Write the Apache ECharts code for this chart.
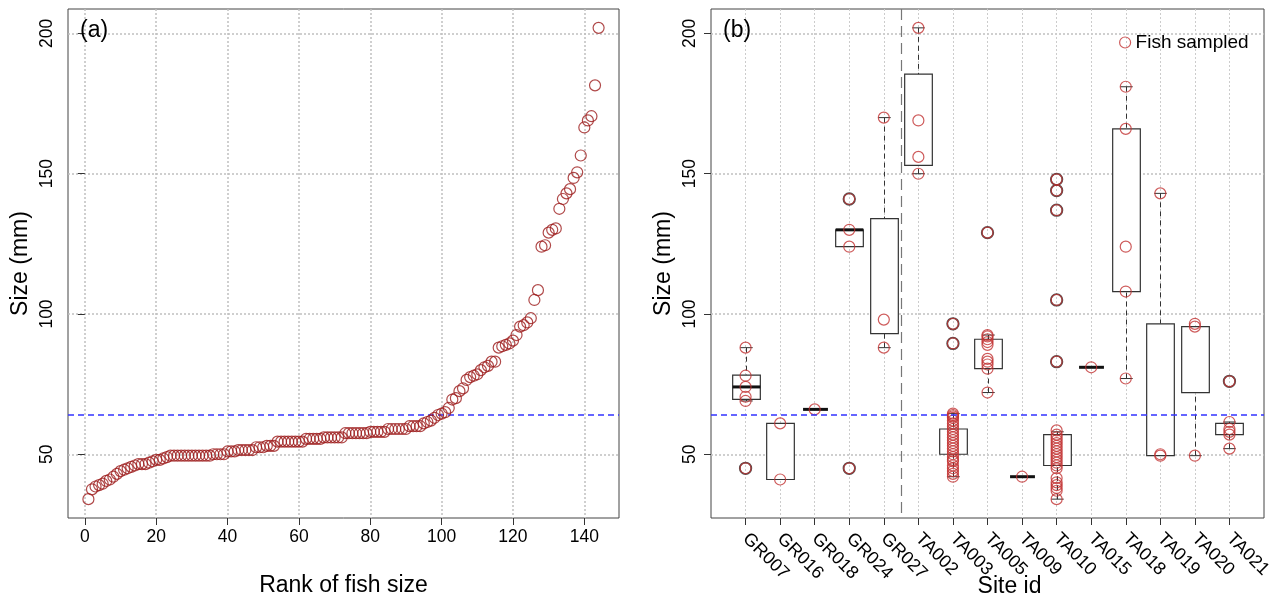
<!DOCTYPE html>
<html>
<head>
<meta charset="utf-8">
<script src="https://cdn.jsdelivr.net/npm/echarts@6/dist/echarts.min.js"></script>
<style>
  html, body { margin: 0; padding: 0; background: #fff; }
  #chart { width: 1270px; height: 599px; }
</style>
</head>
<body>
<div id="chart"></div>
<script>
// Fish sizes (mm), ordered from smallest to largest (panel a)
const rankedSizes = [
  34, 37.5, 38.5, 39, 39.5, 40.5, 41, 42, 43, 44,
  44.5, 45, 45.5, 46, 46.5, 46.5, 46.5, 47, 47.5, 48,
  48, 48.5, 49, 49.5, 49.5, 49.5, 49.5, 49.5, 49.5, 49.5,
  49.5, 49.5, 49.5, 49.5, 49.5, 50, 50, 50, 50, 51,
  51, 51, 51.5, 51.5, 51.5, 51.5, 51.5, 52.5, 52.5, 52.5,
  53, 53, 53, 54.5, 54.5, 54.5, 54.5, 54.5, 54.5, 54.5,
  54.5, 55.5, 55.5, 55.5, 55.5, 55.5, 56, 56, 56, 56,
  56, 56, 57.5, 57.5, 57.5, 57.5, 57.5, 57.5, 57.5, 58,
  58, 58, 58, 58, 59, 59, 59, 59, 59, 59,
  60, 60, 60, 60, 61, 61.5, 62, 63, 64, 64.5,
  65, 66.5, 69.5, 70, 72.5, 73.5, 76.5, 77.5, 78, 78.5,
  80, 81, 81.5, 83, 83, 88, 88.5, 89, 89.5, 90.5,
  92.5, 95.5, 96, 97, 98.5, 105, 108.5, 124, 124.5, 129,
  130, 130.5, 137.5, 141, 143, 144.5, 148.5, 150.5, 156.5, 166.5,
  169, 170.5, 181.5, 202
];

// Reference size shown as the blue dashed line
const referenceSize = 64;

// Sites (panel b)
const siteIds = ['GR007', 'GR016', 'GR018', 'GR024', 'GR027', 'TA002', 'TA003', 'TA005',
                 'TA009', 'TA010', 'TA015', 'TA018', 'TA019', 'TA020', 'TA021'];

// Position of the dashed separator between GR and TA sites
const groupSeparator = 5.5;

// Fish sampled at each site (same order as siteIds)
const siteSizes = [
  [88, 78, 74, 70.5, 69, 45],
  [61, 41],
  [66],
  [141, 130, 124, 45],
  [170, 98, 88],
  [202, 169, 156, 150],
  [96.5, 89.5, 64.5, 64, 63.5, 63, 62, 61, 60, 59, 58, 57, 56, 55, 54, 53, 52, 51,
   50, 49, 48, 47.5, 46, 45, 44, 43, 42],
  [129, 92.5, 92, 91, 90, 89, 84, 83, 82, 80.5, 72],
  [42],
  [148, 144, 137, 105, 83, 58.5, 57, 56, 55, 54, 53, 52, 51, 50, 49, 48, 47, 46, 45,
   41.5, 40, 39, 38, 37, 34],
  [81],
  [181, 166, 124, 108, 77],
  [143, 50, 49.5],
  [96.5, 95.5, 49.5],
  [76, 61.5, 59, 58, 57, 52]
];

// Box-plot outliers per site
const siteOutliers = [
  [45], [], [], [141, 45], [], [], [96.5, 89.5], [129], [], [148, 144, 137, 105, 83],
  [], [], [], [], [76]
];

// Box-plot statistics per site (null median = not drawn)
const whiskerLow  = [69,   41, 66, 124,  88, 150,   42, 72,   42, 34, 81,  77, 49.5, 49.5, 52];
const boxQ1       = [69.6, 41, 66, 124,  93, 153,   50, 80.5, 42, 46, 81, 108, 49.5, 72,   57];
const boxMedian   = [74, null, 66, 130, null, null, null, null, 42, null, 81, null, null, null, null];
const boxQ3       = [78.2, 61, 66, 130, 134, 185.5, 59, 91,   42, 57, 81, 166, 96.5, 95.5, 61];
const whiskerHigh = [88,   61, 66, 130, 170, 202,  64.5, 92.5, 42, 58, 81, 181, 143, 95.5, 61.5];

// Axis ticks
const rankTicks = [0, 20, 40, 60, 80, 100, 120, 140];
const sizeTicks = [50, 100, 150, 200];
const siteTicks = [1, 2, 3, 4, 5, 6, 7, 8, 9, 10, 11, 12, 13, 14, 15];

// ---------------------------------------------------------------
const FONT = '"Liberation Sans", Arial, Helvetica, sans-serif';
const RED_A = '#9c1c1c';
const RED_B = '#c23232';
const BLUE = '#3333ff';
const GRID_COLOR = '#c0c0c0';

const sizeMin = 27.28, sizeMax = 208.72;
const rankMin = -4.72, rankMax = 149.72;
const siteMin = 0, siteMax = 16;

const rankData = rankedSizes.map((v, i) => [i + 1, v]);

const sitePointData = [];
siteSizes.forEach((arr, i) => arr.forEach(v => sitePointData.push([i + 1, v])));
const outlierData = [];
siteOutliers.forEach((arr, i) => arr.forEach(v => outlierData.push([i + 1, v])));

const boxData = siteIds.map((id, i) => [
  i + 1, whiskerLow[i], boxQ1[i],
  boxMedian[i] == null ? '-' : boxMedian[i],
  boxQ3[i], whiskerHigh[i]
]);

function renderBox(params, api) {
  const x = api.value(0);
  const lo = api.value(1), q1 = api.value(2), med = api.value(3),
        q3 = api.value(4), hi = api.value(5);
  const boxW = api.size([0.8, 0])[0];
  const capW = api.size([0.36, 0])[0];
  const pQ1 = api.coord([x, q1]);
  const pQ3 = api.coord([x, q3]);
  const pLo = api.coord([x, lo]);
  const pHi = api.coord([x, hi]);
  const cx = Math.round(pQ1[0]) + 0.5;
  const stroke = '#333';
  const children = [];
  const dash = { stroke, lineWidth: 1, lineDash: [5, 4] };
  if (hi > q3) {
    children.push({ type: 'line', shape: { x1: cx, y1: pHi[1], x2: cx, y2: pQ3[1] }, style: dash });
    children.push({ type: 'line', shape: { x1: cx - capW / 2, y1: pHi[1], x2: cx + capW / 2, y2: pHi[1] },
                    style: { stroke, lineWidth: 1 } });
  }
  if (lo < q1) {
    children.push({ type: 'line', shape: { x1: cx, y1: pLo[1], x2: cx, y2: pQ1[1] }, style: dash });
    children.push({ type: 'line', shape: { x1: cx - capW / 2, y1: pLo[1], x2: cx + capW / 2, y2: pLo[1] },
                    style: { stroke, lineWidth: 1 } });
  }
  if (q3 > q1) {
    children.push({ type: 'rect',
      shape: { x: cx - boxW / 2, y: pQ3[1], width: boxW, height: pQ1[1] - pQ3[1] },
      style: { fill: '#fff', stroke, lineWidth: 1.2 } });
  }
  if (!isNaN(med)) {
    const pm = api.coord([x, med]);
    const w = q3 > q1 ? boxW : boxW * 0.9;
    children.push({ type: 'line', shape: { x1: cx - w / 2, y1: pm[1], x2: cx + w / 2, y2: pm[1] },
                    style: { stroke: '#111', lineWidth: 3 } });
  }
  return { type: 'group', children };
}

// Full-width horizontal reference line at the data value of each item
function renderHLine(params, api) {
  const cs = params.coordSys;
  const y = api.coord([api.value(0), api.value(1)])[1];
  return { type: 'line', shape: { x1: cs.x, y1: y, x2: cs.x + cs.width, y2: y },
           style: { stroke: BLUE, lineWidth: 1.4, lineDash: [6, 4] } };
}

// Full-height vertical separator at the data value of each item
function renderVLine(params, api) {
  const cs = params.coordSys;
  const x = Math.round(api.coord([api.value(0), api.value(1)])[0]) + 0.5;
  return { type: 'line', shape: { x1: x, y1: cs.y, x2: x, y2: cs.y + cs.height },
           style: { stroke: '#777', lineWidth: 1.2, lineDash: [11, 6] } };
}

const tickLabel = { fontFamily: FONT, fontSize: 17.5, color: '#000' };
const axisName = { fontFamily: FONT, fontSize: 23, color: '#000' };

const sizeAxis = (gridIndex) => ({
  type: 'value', gridIndex, min: sizeMin, max: sizeMax,
  name: 'Size (mm)', nameLocation: 'middle', nameGap: 36, nameRotate: 90,
  nameMoveOverlap: false, nameTextStyle: axisName,
  axisLine: { show: false },
  axisTick: { show: true, inside: false, length: 7, customValues: sizeTicks,
              lineStyle: { color: '#333', width: 1 } },
  axisLabel: { show: true, rotate: 90, margin: 12, customValues: sizeTicks, ...tickLabel },
  splitLine: { show: true, lineStyle: { color: GRID_COLOR, type: [2, 2], width: 1.5 } }
});

const chart = echarts.init(document.getElementById('chart'), null, { renderer: 'canvas' });

chart.setOption({
  animation: false,
  backgroundColor: '#fff',
  textStyle: { fontFamily: FONT },
  grid: [
    { left: 68, top: 9, width: 551, height: 509, show: true, borderColor: '#444', borderWidth: 1,
      backgroundColor: 'transparent', containLabel: false, outerBoundsMode: 'none' },
    { left: 711, top: 9, width: 553, height: 509, show: true, borderColor: '#444', borderWidth: 1,
      backgroundColor: 'transparent', containLabel: false, outerBoundsMode: 'none' }
  ],
  xAxis: [
    {
      type: 'value', gridIndex: 0, min: rankMin, max: rankMax,
      name: 'Rank of fish size', nameLocation: 'middle', nameGap: 56, nameMoveOverlap: false,
      nameTextStyle: axisName,
      axisLine: { show: false },
      axisTick: { show: true, length: 7, customValues: rankTicks, lineStyle: { color: '#333' } },
      axisLabel: { show: true, margin: 10, customValues: rankTicks, ...tickLabel },
      splitLine: { show: true, lineStyle: { color: GRID_COLOR, type: [2, 2], width: 1.5 } }
    },
    {
      type: 'value', gridIndex: 1, min: siteMin, max: siteMax,
      name: 'Site id', nameLocation: 'middle', nameGap: 57, nameMoveOverlap: false,
      nameTextStyle: { ...axisName, padding: [0, 0, 0, 44] },
      axisLine: { show: false },
      axisTick: { show: true, length: 7, customValues: siteTicks, lineStyle: { color: '#333' } },
      axisLabel: { show: true, margin: 18, rotate: -45, customValues: siteTicks,
                   formatter: v => siteIds[Math.round(v) - 1] || '',
                   fontFamily: FONT, fontSize: 18, color: '#000' },
      splitLine: { show: true, lineStyle: { color: '#cccccc', type: [2, 2], width: 1 } }
    }
  ],
  yAxis: [sizeAxis(0), sizeAxis(1)],
  legend: {
    show: true, left: 1114, top: 28, itemWidth: 11, itemHeight: 11, itemGap: 6,
    textStyle: { fontFamily: FONT, fontSize: 19, color: '#000' },
    data: [{ name: 'Fish sampled', icon: 'circle',
             itemStyle: { color: 'rgba(0,0,0,0)', borderColor: RED_B, borderWidth: 1.2 } }],
    selectedMode: false
  },
  graphic: [
    { type: 'text', left: 80, top: 19, z: 10, style: { text: '(a)', fontFamily: FONT, fontSize: 23, fill: '#000' } },
    { type: 'text', left: 723, top: 19, z: 10, style: { text: '(b)', fontFamily: FONT, fontSize: 23, fill: '#000' } }
  ],
  series: [
    {
      type: 'custom', name: 'Reference (a)', xAxisIndex: 0, yAxisIndex: 0, silent: true, z: 2,
      data: [[rankMin, referenceSize]], renderItem: renderHLine, encode: { x: 0, y: 1 }
    },
    {
      type: 'scatter', name: 'Ranked sizes', xAxisIndex: 0, yAxisIndex: 0,
      data: rankData, symbol: 'circle', symbolSize: 11, silent: true, z: 3,
      itemStyle: { color: 'rgba(0,0,0,0)', borderColor: RED_A, borderWidth: 1.2 }
    },
    {
      type: 'custom', name: 'Boxes', xAxisIndex: 1, yAxisIndex: 1,
      data: boxData, renderItem: renderBox, silent: true, z: 2,
      encode: { x: 0, y: [1, 2, 3, 4, 5] }
    },
    {
      type: 'custom', name: 'Separator', xAxisIndex: 1, yAxisIndex: 1, silent: true, z: 2,
      data: [[groupSeparator, sizeMin]], renderItem: renderVLine, encode: { x: 0, y: 1 }
    },
    {
      type: 'scatter', name: 'Outliers', xAxisIndex: 1, yAxisIndex: 1,
      data: outlierData, symbol: 'circle', symbolSize: 11.5, silent: true, z: 3,
      itemStyle: { color: 'rgba(0,0,0,0)', borderColor: '#222', borderWidth: 1.8 }
    },
    {
      type: 'scatter', name: 'Fish sampled', xAxisIndex: 1, yAxisIndex: 1,
      data: sitePointData, symbol: 'circle', symbolSize: 11, silent: true, z: 4,
      itemStyle: { color: 'rgba(0,0,0,0)', borderColor: RED_B, borderWidth: 1.2 }
    },
    {
      type: 'custom', name: 'Reference (b)', xAxisIndex: 1, yAxisIndex: 1, silent: true, z: 5,
      data: [[siteMin, referenceSize]], renderItem: renderHLine, encode: { x: 0, y: 1 }
    }
  ]
});
</script>
</body>
</html>
